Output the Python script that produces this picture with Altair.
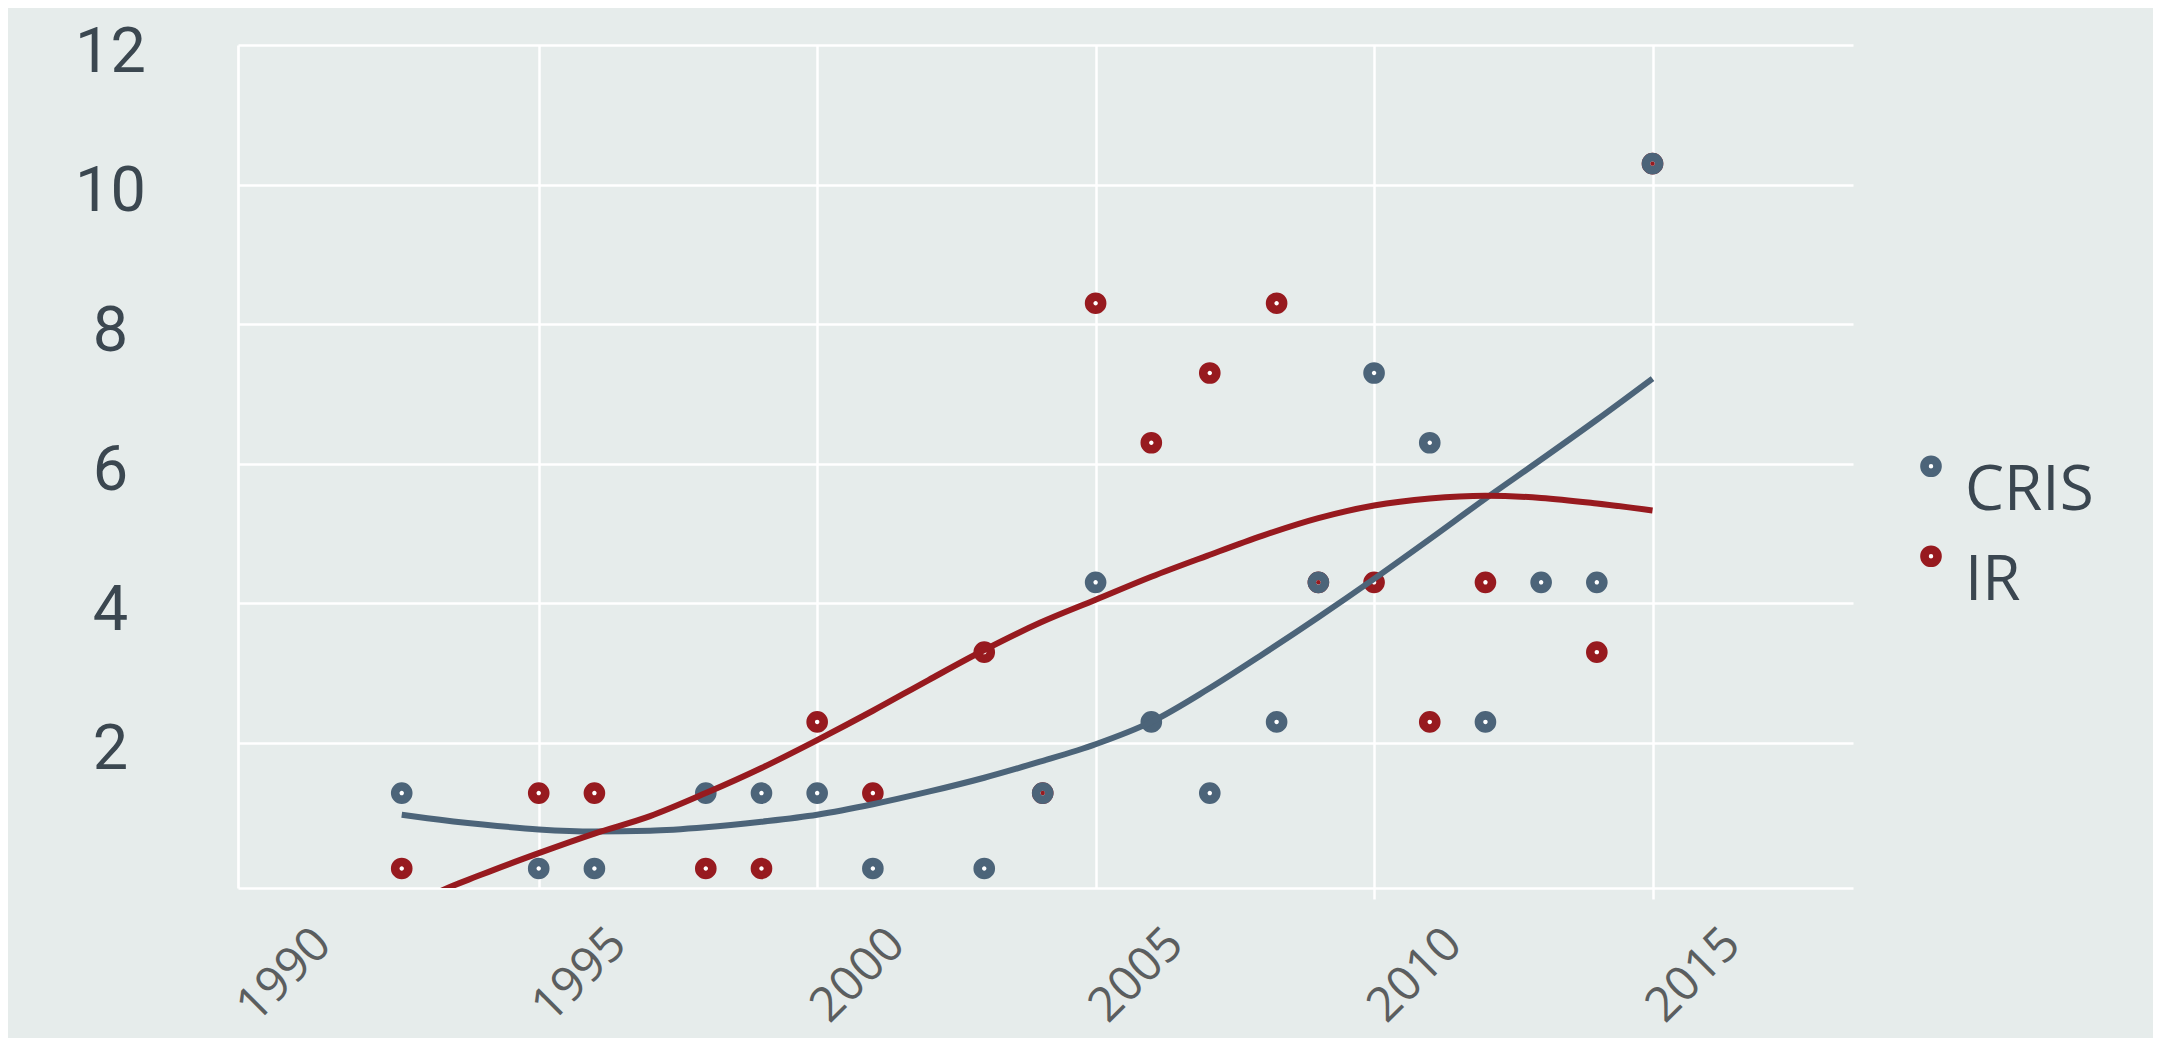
import altair as alt
import pandas as pd

# ---- data ----
series = ["CRIS", "IR"]
colors = ["#4C6479", "#971A1F"]

cris_years = [1992.54, 1995, 1996, 1998, 1999, 2000, 2001, 2003, 2004.05, 2005, 2006,
              2007.05, 2008.25, 2009, 2010, 2011, 2012, 2013, 2014, 2015]
cris_values = [1.28, 0.2, 0.2, 1.28, 1.28, 1.28, 0.2, 0.2, 1.28, 4.3, 2.3,
               1.28, 2.3, 4.3, 7.3, 6.3, 2.3, 4.3, 4.3, 10.3]

ir_years = [1992.54, 1995, 1996, 1998, 1999, 2000, 2001, 2003, 2004.05, 2005, 2006,
            2007.05, 2008.25, 2009, 2010, 2011, 2012, 2014, 2015]
ir_values = [0.2, 1.28, 1.28, 0.2, 0.2, 2.3, 1.28, 3.3, 1.28, 8.3, 6.3,
             7.3, 8.3, 4.3, 4.3, 2.3, 4.3, 3.3, 10.3]

# smoothed trend curves
cris_fit_years = [1992.54, 1993, 1994, 1995, 1996, 1997, 1998, 1999, 2000, 2001, 2002, 2003,
                  2004, 2005, 2006, 2007, 2008, 2009, 2010, 2011, 2012, 2013, 2014, 2015]
cris_fit_values = [0.97, 0.92, 0.83, 0.76, 0.73, 0.74, 0.79, 0.87, 0.97, 1.12, 1.3, 1.5,
                   1.73, 1.98, 2.3, 2.76, 3.27, 3.8, 4.35, 4.92, 5.5, 6.06, 6.63, 7.22]
ir_fit_years = [1992.54, 1993, 1994, 1995, 1996, 1997, 1998, 1999, 2000, 2001, 2002, 2003,
                2004, 2005, 2006, 2007, 2008, 2009, 2010, 2011, 2012, 2013, 2014, 2015]
ir_fit_values = [-0.45, -0.22, 0.12, 0.42, 0.7, 0.95, 1.28, 1.64, 2.04, 2.46, 2.9, 3.33,
                 3.72, 4.05, 4.38, 4.68, 4.97, 5.22, 5.4, 5.5, 5.54, 5.51, 5.43, 5.33]

x_ticks = [1990, 1995, 2000, 2005, 2010, 2015]
y_ticks = [2, 4, 6, 8, 10, 12]

# ---- tables ----
pts = pd.concat([
    pd.DataFrame({"year": ir_years, "value": ir_values, "series": "IR"}),
    pd.DataFrame({"year": cris_years, "value": cris_values, "series": "CRIS"}),
], ignore_index=True)

cris_set = set(zip(cris_years, cris_values))
both = [(y, v) for y, v in zip(ir_years, ir_values) if (y, v) in cris_set]
coinc = pd.DataFrame({"year": [b[0] for b in both], "value": [b[1] for b in both]})

fits = pd.concat([
    pd.DataFrame({"year": cris_fit_years, "value": cris_fit_values, "series": "CRIS"}),
    pd.DataFrame({"year": ir_fit_years, "value": ir_fit_values, "series": "IR"}),
], ignore_index=True)

# ---- scales / axes ----
x_scale = alt.Scale(domain=[1989.6, 2018.6], nice=False, zero=False)
y_scale = alt.Scale(domain=[-0.08, 12], nice=False, zero=False)
color_scale = alt.Scale(domain=series, range=colors)

x_axis = alt.Axis(
    values=x_ticks, format="d", title=None,
    labelAngle=-45, labelAlign="left", labelBaseline="middle",
    labelFont="Open Sans", labelFontSize=48, labelColor="#5B5E5F",
    labelPadding=115,
    labelOffset={"condition": {"test": "datum.value == 1990", "value": -15}, "value": 2},
    labelFlush=False, labelOverlap=False,
    ticks=True, tickSize=11, tickWidth=2.5,
    tickColor={"condition": {"test": "datum.value >= 2010", "value": "white"}, "value": "transparent"},
    grid=True, gridColor="white", gridWidth=2.5,
    gridOpacity={"condition": {"test": "datum.value == 1990", "value": 0}, "value": 1},
    domainColor="white", domainWidth=2.7,
)
y_axis = alt.Axis(
    values=y_ticks, title=None,
    labelFont="Roboto", labelFontSize=63, labelColor="#3B4750",
    labelAlign="center", labelBaseline="middle", labelPadding=128, labelOffset=7,
    ticks=False, grid=True, gridColor="white", gridWidth=2.5,
    domainColor="white", domainWidth=2.7,
)

X = alt.X("year:Q", scale=x_scale, axis=x_axis)
Y = alt.Y("value:Q", scale=y_scale, axis=y_axis)

legend_symbol = "M1,-3.8A1,1,0,1,1,-1,-3.8A1,1,0,1,1,1,-3.8Z"

points = alt.Chart(pts).mark_point(
    shape="circle", filled=False, fill="white", size=170, strokeWidth=8.6, opacity=1
).encode(
    x=X, y=Y,
    color=alt.Color("series:N", scale=color_scale, legend=alt.Legend(
        title=None, orient="none", legendX=1662, legendY=415, padding=0,
        labelFont="Open Sans", labelFontSize=62, labelColor="#3A4650",
        labelOffset=3, rowPadding=10,
        symbolType=legend_symbol, symbolSize=170, symbolStrokeWidth=8.6,
        symbolFillColor="white",
    )),
)

centers = alt.Chart(coinc).mark_point(
    shape="circle", filled=True, size=20, opacity=1, color=colors[1]
).encode(x=X, y=Y)

lines = alt.Chart(fits).mark_line(
    strokeWidth=6, interpolate="monotone", clip=True
).encode(
    x=X, y=Y,
    color=alt.Color("series:N", scale=color_scale, legend=None),
    detail="series:N",
)

chart = alt.layer(points, centers, lines).resolve_legend(color="independent").properties(
    width=1615, height=843,
    autosize=alt.AutoSizeParams(type="none"),
    padding={"left": 230, "top": 37, "right": 300, "bottom": 150},
).configure(background="#E6ECEB").configure_view(strokeWidth=0)

chart.save("out.html", embed_options={"renderer": "svg", "actions": False})
